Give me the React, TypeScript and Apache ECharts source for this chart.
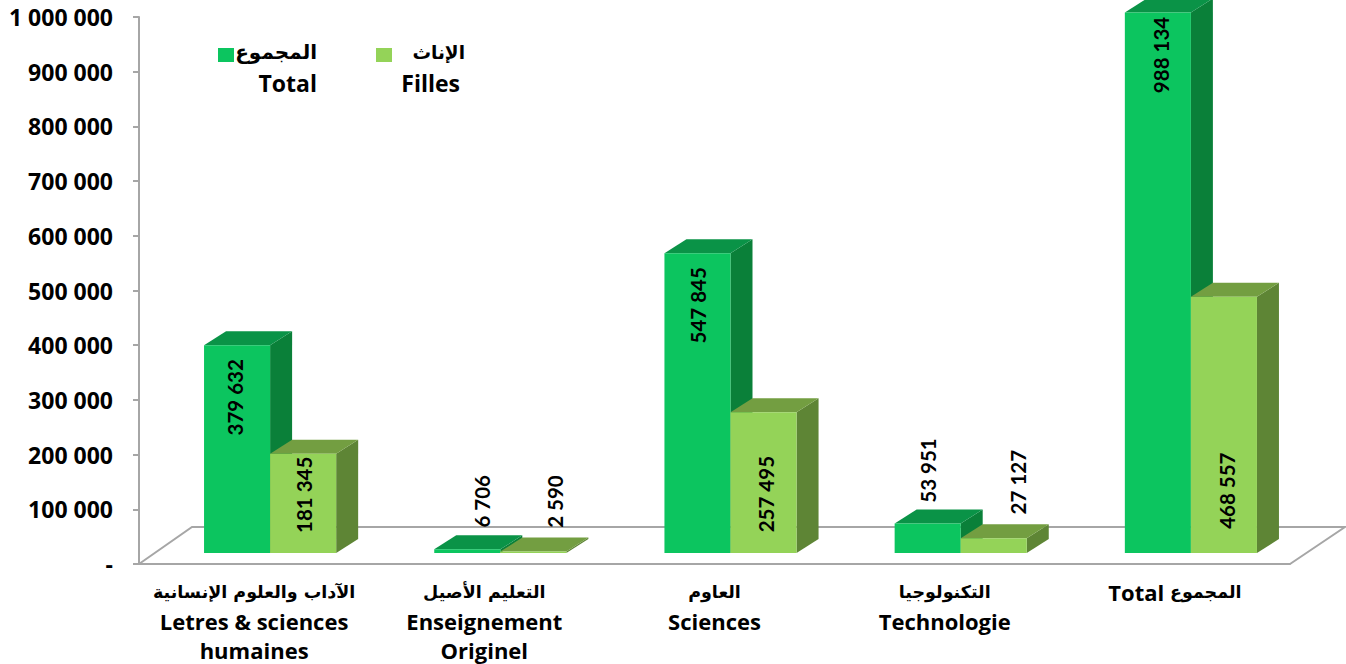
import React, { useEffect, useRef } from "react";
import * as echarts from "echarts";

const categories = [
  "الآداب والعلوم الإنسانية\nLetres & sciences\nhumaines",
  "التعليم الأصيل\nEnseignement\nOriginel",
  "العاوم\nSciences",
  "التكنولوجيا\nTechnologie",
  "Total المجموع",
];
const totalValues = [379632, 6706, 547845, 53951, 988134];
const fillesValues = [181345, 2590, 257495, 27127, 468557];
const yTicks = [0, 100000, 200000, 300000, 400000, 500000, 600000, 700000, 800000, 900000, 1000000];

// hand-placed data label shifts in the reference, px from the bar's front-top centre
const totalLabelShift = [[-2, 52], [15, -48], [1, 52], [0, -53], [3, 42.5]];
const fillesLabelShift = [[1, 41], [22, -50], [2, 82], [24, -56], [3, 194]];

const LABEL_FONT = "Lato, sans-serif";
const LATIN_FONT = "'Open Sans', sans-serif";
const ARABIC_FONT = "'DejaVu Sans', sans-serif";
const fmt = (v: number) => String(v).replace(/\B(?=(\d{3})+(?!\d))/g, " ");

const DEPTH_X = 22, DEPTH_Y = 14;
const LIFT_X = 16, LIFT_Y = 11;
const BAR_RATIO = 66 / 230;

function richLabel(text: string) {
  return text
    .split("\n")
    .map((line) =>
      line.replace(/[\u0600-\u06FF]+(?:\s+[\u0600-\u06FF]+)*|[^\u0600-\u06FF]+/g, (run) =>
        /[\u0600-\u06FF]/.test(run) ? `{ar|${run}}` : `{la|${run}}`
      )
    )
    .join("\n");
}

function barSeries(name: string, values: number[], shifts: number[][], side: 0 | 1, colors: string[]) {
  return {
    type: "custom",
    name,
    z: 3,
    data: values.map((v, i) => [i, v]),
    encode: { x: 0, y: 1 },
    renderItem: (params: any, api: any) => {
      const i = api.value(0), v = api.value(1);
      const base = api.coord([i, 0]);
      const top = api.coord([i, v]);
      const w = api.size([1, 0])[0] * BAR_RATIO;
      const x0 = base[0] + LIFT_X - w + side * w;
      const x1 = x0 + w;
      const yb = base[1] - LIFT_Y;
      const yt = top[1] - LIFT_Y;
      const [dx, dy] = shifts[params.dataIndex];
      return {
        type: "group",
        children: [
          { type: "polygon", shape: { points: [[x1, yt], [x1 + DEPTH_X, yt - DEPTH_Y], [x1 + DEPTH_X, yb - DEPTH_Y], [x1, yb]] }, style: { fill: colors[1] } },
          { type: "polygon", shape: { points: [[x0, yt], [x0 + DEPTH_X, yt - DEPTH_Y], [x1 + DEPTH_X, yt - DEPTH_Y], [x1, yt]] }, style: { fill: colors[2] } },
          { type: "rect", shape: { x: x0, y: yt, width: w, height: yb - yt }, style: { fill: colors[0] } },
          {
            type: "text",
            x: (x0 + x1) / 2 + dx,
            y: yt + dy,
            rotation: Math.PI / 2,
            z2: 50,
            style: { text: fmt(v), x: 0, y: 0, align: "center", verticalAlign: "middle", fill: "#000", font: `bold 20.5px ${LABEL_FONT}` },
          },
        ],
      };
    },
  };
}

export default function App() {
  const ref = useRef<HTMLDivElement>(null);
  useEffect(() => {
    const chart = echarts.init(ref.current!, null, { renderer: "svg" });
    const legendText = (text: string, right: number, y: number, font: string) => ({
      type: "text", x: right, y,
      style: { text, align: "right", verticalAlign: "middle", fill: "#000", font },
    });
    const laLegend = `bold 23px ${LATIN_FONT}`;
    chart.setOption({
      animation: false,
      grid: { left: 139, right: 56, top: 17, bottom: 100, outerBoundsMode: "none" },
      xAxis: {
        type: "category",
        data: categories,
        axisLine: { lineStyle: { color: "#a6a6a6", width: 2 } },
        axisTick: { length: 7, alignWithLabel: false, lineStyle: { color: "#a6a6a6", width: 2 } },
        axisLabel: {
          interval: 0,
          margin: 13,
          color: "#000",
          verticalAlign: "top",
          formatter: (v: string) => richLabel(v),
          rich: {
            ar: { fontFamily: ARABIC_FONT, fontWeight: "bold", fontSize: 17.5, lineHeight: 29, color: "#000" },
            la: { fontFamily: LATIN_FONT, fontWeight: "bold", fontSize: 22, lineHeight: 29, color: "#000" },
          },
        },
      },
      yAxis: {
        type: "value",
        min: yTicks[0],
        max: yTicks[yTicks.length - 1],
        interval: 100000,
        splitLine: { show: false },
        axisLine: { show: true, lineStyle: { color: "#a6a6a6", width: 2 } },
        axisTick: { show: true, length: 6, lineStyle: { color: "#a6a6a6", width: 2 } },
        axisLabel: { margin: 26, padding: [0, 0, 2, 0], fontFamily: LATIN_FONT, fontWeight: "bold", fontSize: 23, color: "#000", formatter: (v: number) => (v === 0 ? "-" : fmt(v)) },
      },
      graphic: [
        { type: "rect", shape: { x: 218, y: 48, width: 16, height: 14 }, style: { fill: "#0cc55f" } },
        { type: "rect", shape: { x: 376, y: 48, width: 16, height: 14 }, style: { fill: "#94d358" } },
        legendText("المجموع", 317, 52, `bold 20px ${ARABIC_FONT}`),
        legendText("Total", 317, 83, laLegend),
        legendText("الإناث", 465, 52, `bold 18.5px ${ARABIC_FONT}`),
        legendText("Filles", 460, 83, laLegend),
      ],
      series: [
        {
          type: "custom",
          name: "floor",
          z: 1,
          data: [[0, 0]],
          encode: { x: 0, y: 1 },
          renderItem: (_: any, api: any) => {
            const band = api.size([1, 0])[0];
            const l = api.coord([0, 0]);
            const r = api.coord([4, 0]);
            const xl = l[0] - band / 2, xr = r[0] + band / 2, y = l[1];
            const style = { stroke: "#a6a6a6", lineWidth: 2, fill: "none" };
            return { type: "polyline", shape: { points: [[xl, y], [xl + 53, y - 37], [xr + 55, y - 37], [xr, y]] }, style };
          },
        },
        barSeries("Total", totalValues, totalLabelShift, 0, ["#0cc55f", "#0a8039", "#0a9347"]),
        barSeries("Filles", fillesValues, fillesLabelShift, 1, ["#94d358", "#5e8535", "#739e41"]),
      ],
    });
    return () => chart.dispose();
  }, []);
  return <div ref={ref} style={{ position: "fixed", left: 0, top: 0, width: 1346, height: 664, background: "#fff" }} />;
}
